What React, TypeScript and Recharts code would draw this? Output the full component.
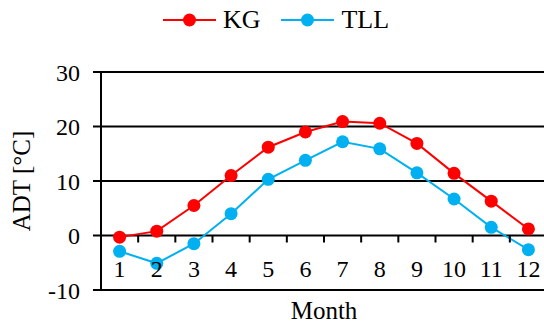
import React from 'react';
import {CartesianGrid, Legend, Line, LineChart, XAxis, YAxis} from 'recharts';

const months = ['1', '2', '3', '4', '5', '6', '7', '8', '9', '10', '11', '12'];
const kgValues = [-0.3, 0.8, 5.5, 11.0, 16.2, 19.0, 20.9, 20.6, 16.9, 11.4, 6.3, 1.2];
const tllValues = [-2.9, -5.1, -1.5, 4.0, 10.3, 13.8, 17.2, 15.9, 11.5, 6.7, 1.5, -2.6];
const yTicks = [-10, 0, 10, 20, 30];

const WIDTH = 544;
const HEIGHT = 325;
const TOP = 72;
const RIGHT = -3;
const Y_AXIS_W = 101;
const X_AXIS_H = 35;
const Y_MIN = -10;
const Y_MAX = 30;
const FONT = '"Liberation Serif", "Times New Roman", serif';

const KG_COLOR = '#ff0000';
const TLL_COLOR = '#00b0f0';

const plotW = WIDTH - Y_AXIS_W - RIGHT;
const plotH = HEIGHT - TOP - X_AXIS_H;
const band = plotW / months.length;
const zeroY = TOP + plotH * (Y_MAX / (Y_MAX - Y_MIN));

const data = months.map((m, i) => ({month: m, KG: kgValues[i], TLL: tllValues[i]}));

// month labels sit on the zero line, with small ticks between categories
const MonthTick = (props: any) => {
    const {x, payload} = props;
    return (
        <g>
            <line x1={x - band / 2} x2={x - band / 2} y1={zeroY} y2={zeroY + 7} stroke="#000" strokeWidth={2}/>
            <text x={x} y={zeroY + 41} textAnchor="middle" fontFamily={FONT} fontSize={24} fill="#000">
                {payload.value}
            </text>
        </g>
    );
};

const legendItems = [
    {name: 'KG', color: KG_COLOR},
    {name: 'TLL', color: TLL_COLOR},
];

const LegendContent = () => (
    <div style={{display: 'flex', justifyContent: 'center', alignItems: 'center', gap: 21}}>
        {legendItems.map(item => (
            <div key={item.name} style={{display: 'flex', alignItems: 'center'}}>
                <svg width={53} height={16}>
                    <line x1={0} x2={53} y1={8} y2={8} stroke={item.color} strokeWidth={2}/>
                    <circle cx={26.5} cy={8} r={6.5} fill={item.color}/>
                </svg>
                <span style={{fontFamily: FONT, fontSize: 26, marginLeft: 7, color: '#000', lineHeight: '30px'}}>
                    {item.name}
                </span>
            </div>
        ))}
    </div>
);

const YLabel = (props: any) => {
    const {viewBox} = props;
    const cx = viewBox.x + 30;
    const cy = viewBox.y + viewBox.height / 2;
    return (
        <text x={cx} y={cy} transform={`rotate(-90, ${cx}, ${cy})`} textAnchor="middle"
              fontFamily={FONT} fontSize={25} fill="#000">
            ADT [°C]
        </text>
    );
};

export default function App() {
    return (
        <div style={{position: 'absolute', left: 0, top: 0, background: '#fff'}}>
            <LineChart width={WIDTH} height={HEIGHT} data={data}
                       margin={{top: TOP, right: RIGHT, left: 0, bottom: 0}}>
                <CartesianGrid vertical={false} stroke="#000" strokeWidth={2}/>
                <XAxis dataKey="month" height={X_AXIS_H} axisLine={false} tickLine={false}
                       interval={0} tick={<MonthTick/>} padding={{left: band / 2, right: band / 2}}
                       label={{value: 'Month', position: 'insideBottom', offset: 6, fontFamily: FONT, fontSize: 25, fill: '#000'}}/>
                <YAxis width={Y_AXIS_W} domain={[Y_MIN, Y_MAX]} ticks={yTicks} interval={0}
                       axisLine={{stroke: '#000', strokeWidth: 2}} tickLine={{stroke: '#000', strokeWidth: 2}}
                       tickSize={8} tickMargin={13}
                       tick={{fontFamily: FONT, fontSize: 24, fill: '#000'}}
                       label={<YLabel/>}/>
                <Legend layout="horizontal" verticalAlign="middle" align="center"
                        wrapperStyle={{top: 5, left: 0, width: 552}} content={<LegendContent/>}/>
                <Line dataKey="KG" stroke={KG_COLOR} strokeWidth={2} isAnimationActive={false}
                      dot={{r: 6.5, fill: KG_COLOR, stroke: KG_COLOR, strokeWidth: 0}} activeDot={false}/>
                <Line dataKey="TLL" stroke={TLL_COLOR} strokeWidth={2} isAnimationActive={false}
                      dot={{r: 6.5, fill: TLL_COLOR, stroke: TLL_COLOR, strokeWidth: 0}} activeDot={false}/>
            </LineChart>
        </div>
    );
}
